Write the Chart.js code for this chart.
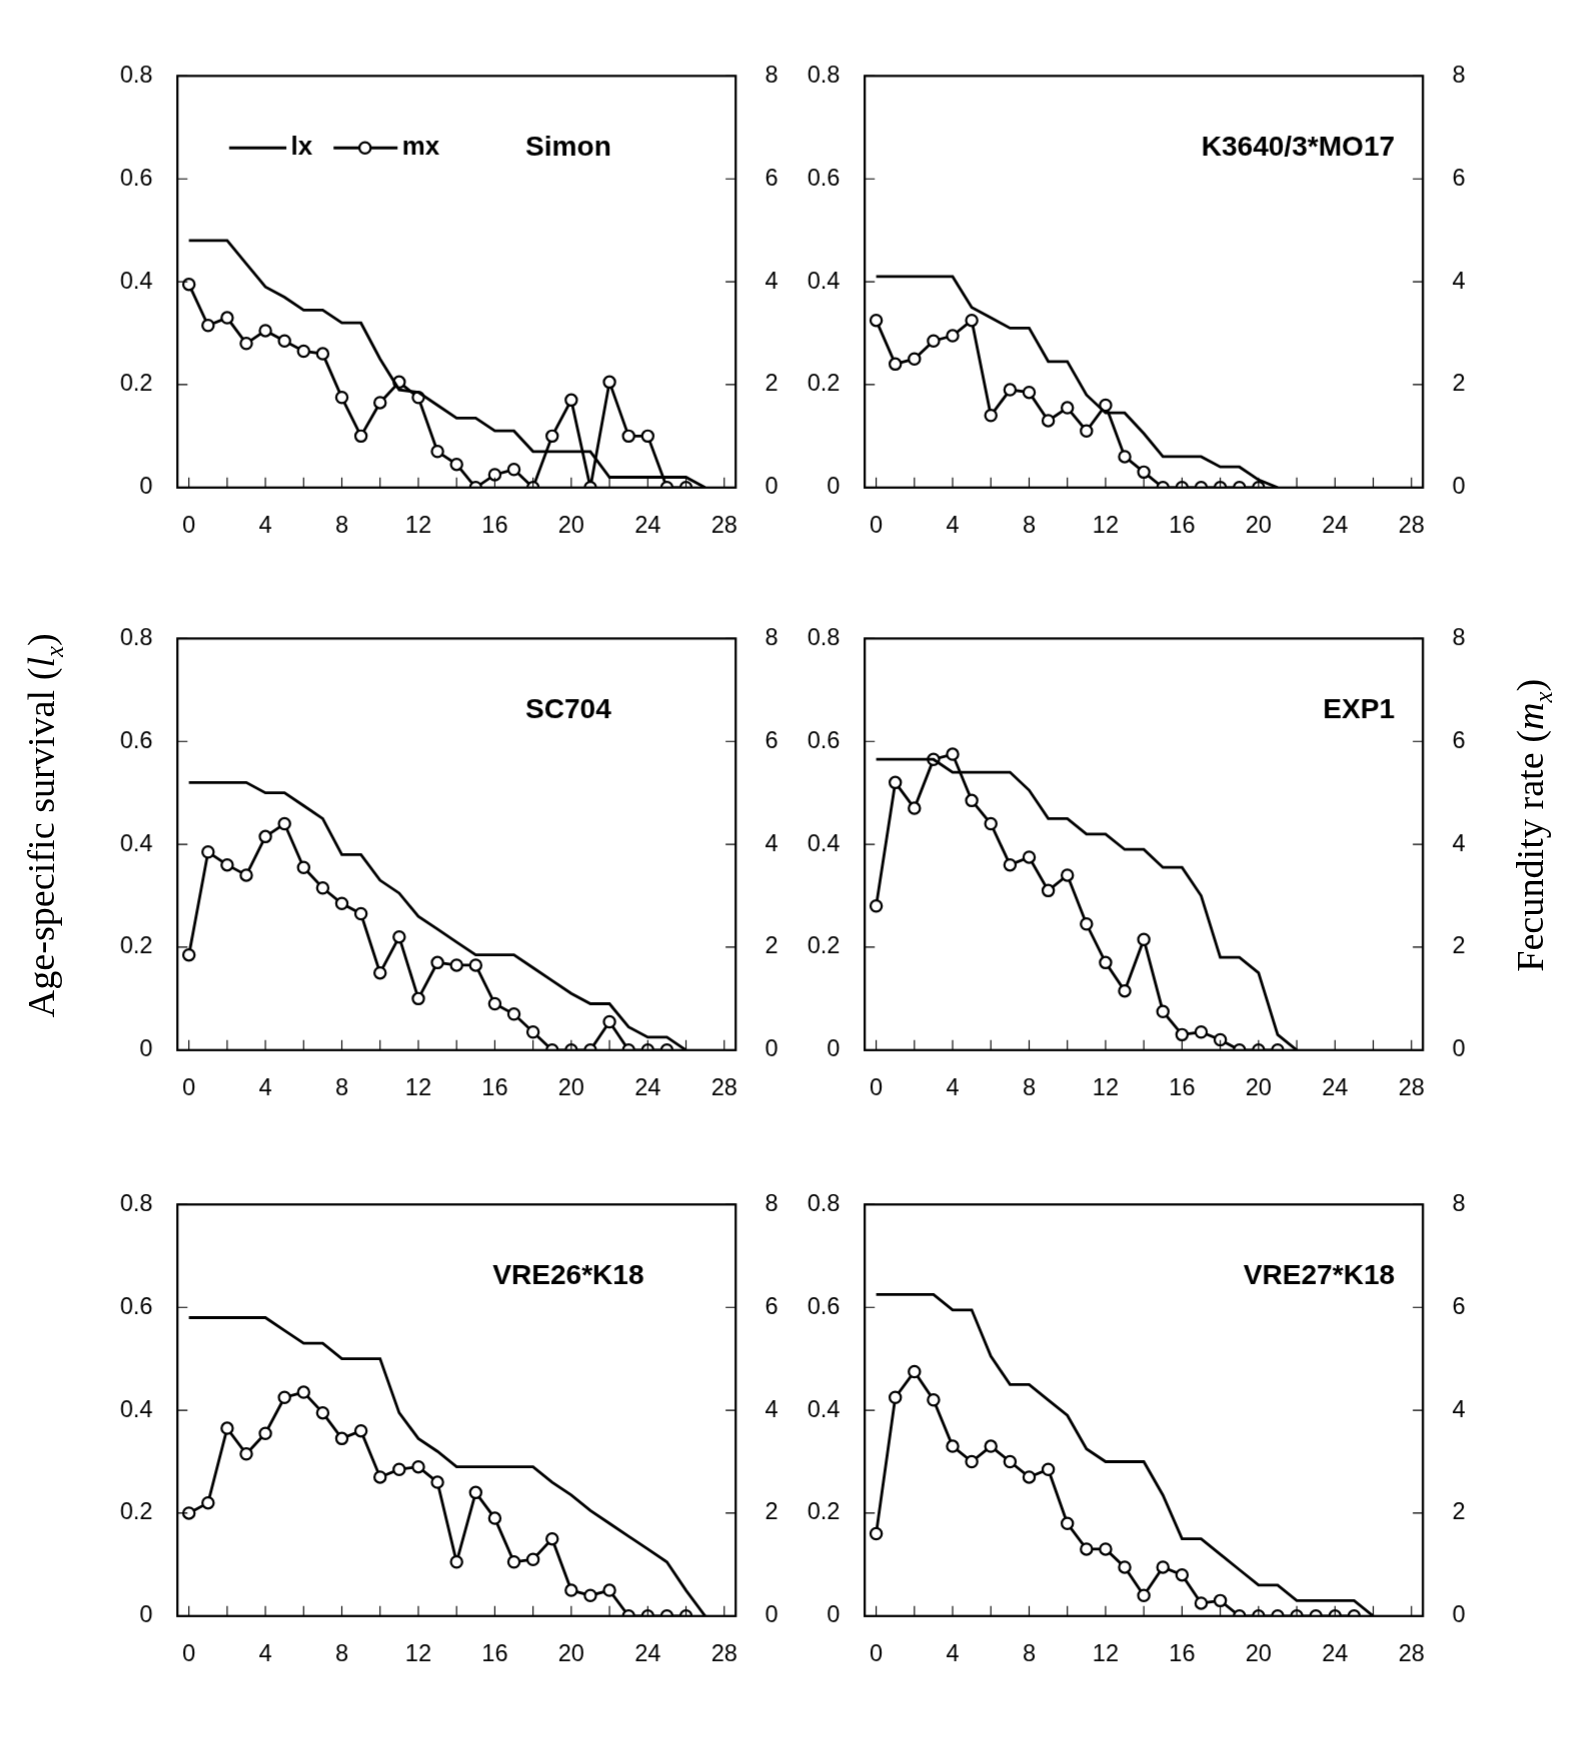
<!DOCTYPE html>
<html><head><meta charset="utf-8">
<script src="https://cdn.jsdelivr.net/npm/chart.js@4"></script>
<style>
body{margin:0;background:#fff;width:1572px;height:1763px;overflow:hidden}
#wrap{position:absolute;left:0;top:0;width:1400px;height:1570px;transform:scale(1.1229);transform-origin:0 0;font-family:"Liberation Serif",serif}
.c{position:absolute}
.lab{position:absolute;font-family:"Liberation Serif",serif;font-size:34px;color:#000;white-space:nowrap}
</style></head><body><div id="wrap">
<div class="lab" style="left:40px;top:735px;transform:translate(-50%,-50%) rotate(-90deg)">Age-specific survival (<i>l<sub style="font-size:22px">x</sub></i>)</div>
<div class="lab" style="left:1366px;top:735px;transform:translate(-50%,-50%) rotate(-90deg)">Fecundity rate (<i>m<sub style="font-size:22px">x</sub></i>)</div>
<div class="lab" style="left:720px;top:1743px;transform:translate(-50%,-50%)">Age (day)</div>
</div>
<script>
const titles=["Simon","K3640/3*MO17","SC704","EXP1","VRE26*K18","VRE27*K18"];
const xTicks=[0,4,8,12,16,20,24,28];
const lxTicks=[0,0.2,0.4,0.6,0.8];
const mxTicks=[0,2,4,6,8];
const lxSimon=[0.48,0.48,0.48,0.435,0.39,0.37,0.345,0.345,0.32,0.32,0.25,0.19,0.185,0.16,0.135,0.135,0.11,0.11,0.07,0.07,0.07,0.07,0.02,0.02,0.02,0.02,0.02,0];
const mxSimon=[3.95,3.15,3.3,2.8,3.05,2.85,2.65,2.6,1.75,1.0,1.65,2.05,1.75,0.7,0.45,0,0.25,0.35,0,1.0,1.7,0,2.05,1.0,1.0,0,0];
const lxK3640=[0.41,0.41,0.41,0.41,0.41,0.35,0.33,0.31,0.31,0.245,0.245,0.18,0.145,0.145,0.105,0.06,0.06,0.06,0.04,0.04,0.015,0];
const mxK3640=[3.25,2.4,2.5,2.85,2.95,3.25,1.4,1.9,1.85,1.3,1.55,1.1,1.6,0.6,0.3,0,0,0,0,0,0];
const lxSC704=[0.52,0.52,0.52,0.52,0.5,0.5,0.475,0.45,0.38,0.38,0.33,0.305,0.26,0.235,0.21,0.185,0.185,0.185,0.16,0.135,0.11,0.09,0.09,0.045,0.025,0.025,0];
const mxSC704=[1.85,3.85,3.6,3.4,4.15,4.4,3.55,3.15,2.85,2.65,1.5,2.2,1.0,1.7,1.65,1.65,0.9,0.7,0.35,0,0,0,0.55,0,0,0];
const lxEXP1=[0.565,0.565,0.565,0.565,0.54,0.54,0.54,0.54,0.505,0.45,0.45,0.42,0.42,0.39,0.39,0.355,0.355,0.3,0.18,0.18,0.15,0.03,0];
const mxEXP1=[2.8,5.2,4.7,5.65,5.75,4.85,4.4,3.6,3.75,3.1,3.4,2.45,1.7,1.15,2.15,0.75,0.3,0.35,0.2,0,0,0];
const lxVRE26=[0.58,0.58,0.58,0.58,0.58,0.555,0.53,0.53,0.5,0.5,0.5,0.395,0.345,0.32,0.29,0.29,0.29,0.29,0.29,0.26,0.235,0.205,0.18,0.155,0.13,0.105,0.05,0];
const mxVRE26=[2.0,2.2,3.65,3.15,3.55,4.25,4.35,3.95,3.45,3.6,2.7,2.85,2.9,2.6,1.05,2.4,1.9,1.05,1.1,1.5,0.5,0.4,0.5,0,0,0,0];
const lxVRE27=[0.625,0.625,0.625,0.625,0.595,0.595,0.505,0.45,0.45,0.42,0.39,0.325,0.3,0.3,0.3,0.235,0.15,0.15,0.12,0.09,0.06,0.06,0.03,0.03,0.03,0.03,0];
const mxVRE27=[1.6,4.25,4.75,4.2,3.3,3.0,3.3,3.0,2.7,2.85,1.8,1.3,1.3,0.95,0.4,0.95,0.8,0.25,0.3,0,0,0,0,0,0,0];
const lxAll=[lxSimon,lxK3640,lxSC704,lxEXP1,lxVRE26,lxVRE27];
const mxAll=[mxSimon,mxK3640,mxSC704,mxEXP1,mxVRE26,mxVRE27];
const pos=[[100,37],[712,37],[100,538],[712,538],[100,1042],[712,1042]];
const titleAlign=['center','right','center','right','center','right'];

const boxPlugin={id:'box',afterDraw(ch,args,o){
  const c=ch.ctx,a=ch.chartArea,x=ch.scales.x,y=ch.scales.y,y2=ch.scales.y2;
  c.save();c.strokeStyle='#000';c.lineWidth=2;c.strokeRect(a.left,a.top,a.right-a.left,a.bottom-a.top);
  c.lineWidth=1;c.beginPath();
  for(let v=0;v<=28;v+=2){const px=x.getPixelForValue(v);c.moveTo(px,a.bottom);c.lineTo(px,a.bottom-9);}
  for(const v of lxTicks){const py=y.getPixelForValue(v);c.moveTo(a.left,py);c.lineTo(a.left+9,py);}
  for(const v of mxTicks){const py=y2.getPixelForValue(v);c.moveTo(a.right,py);c.lineTo(a.right-9,py);}
  c.stroke();
  c.fillStyle='#000';c.font='bold 25px "Liberation Sans", Arial';c.textBaseline='middle';
  if(o.align==='center'){c.textAlign='center';c.fillText(o.title,a.left+348,a.top+64);}
  else{c.textAlign='right';c.fillText(o.title,a.right-25,a.top+64);}
  if(o.legend){
    c.lineWidth=2.5;c.beginPath();c.moveTo(a.left+46,a.top+64);c.lineTo(a.left+97,a.top+64);
    c.moveTo(a.left+139,a.top+64);c.lineTo(a.left+196,a.top+64);c.stroke();
    c.beginPath();c.arc(a.left+167,a.top+64,5,0,Math.PI*2);c.fillStyle='#fff';c.fill();c.lineWidth=2;c.stroke();
    c.fillStyle='#000';c.textAlign='left';c.font='bold 23px "Liberation Sans", Arial';
    c.fillText('lx',a.left+101,a.top+64);c.fillText('mx',a.left+200,a.top+64);
  }
  c.restore();
}};

const wrap=document.getElementById('wrap');
for(let i=0;i<6;i++){
  const cv=document.createElement('canvas');
  cv.className='c';cv.style.left=pos[i][0]+'px';cv.style.top=pos[i][1]+'px';
  cv.width=620;cv.height=457;
  wrap.appendChild(cv);
  const tickFont={family:'"Liberation Sans", Arial',size:21};
  new Chart(cv,{type:'line',
    data:{datasets:[
      {data:lxAll[i].map((v,k)=>({x:k,y:v})),yAxisID:'y',borderColor:'#000',borderWidth:2.5,pointRadius:0,tension:0},
      {data:mxAll[i].map((v,k)=>({x:k,y:v})),yAxisID:'y2',borderColor:'#000',borderWidth:2.5,pointRadius:5,pointBorderWidth:2,pointBackgroundColor:'#fff',pointBorderColor:'#000',tension:0}
    ]},
    options:{responsive:false,maintainAspectRatio:false,animation:false,devicePixelRatio:1.1229,
      layout:{padding:{top:10,left:0,right:0,bottom:0}},
      plugins:{legend:{display:false},tooltip:{enabled:false},box:{title:titles[i],align:titleAlign[i],legend:i===0}},
      scales:{
        x:{type:'linear',min:-0.6,max:28.6,grid:{display:false},border:{display:false},
          afterBuildTicks:s=>{s.ticks=xTicks.map(v=>({value:v}));},
          afterFit:s=>{s.height=60;},
          ticks:{font:tickFont,color:'#000',padding:14,maxRotation:0,autoSkip:false}},
        y:{position:'left',min:0,max:0.8,grid:{display:false},border:{display:false},
          afterBuildTicks:s=>{s.ticks=lxTicks.map(v=>({value:v}));},
          afterFit:s=>{s.width=58;},
          ticks:{font:tickFont,color:'#000',padding:14,callback:v=>String(v)}},
        y2:{position:'right',min:0,max:8,grid:{display:false},border:{display:false},
          afterBuildTicks:s=>{s.ticks=mxTicks.map(v=>({value:v}));},
          afterFit:s=>{s.width=65;},
          ticks:{font:tickFont,color:'#000',padding:18,callback:v=>String(v)}}
      }},
    plugins:[boxPlugin]});
}
</script></body></html>
